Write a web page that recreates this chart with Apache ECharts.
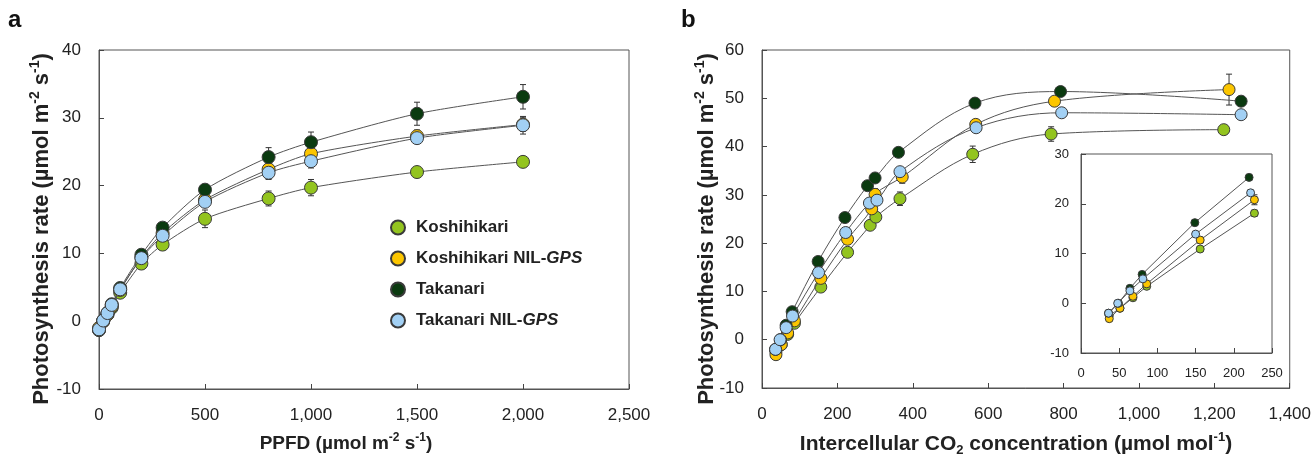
<!DOCTYPE html>
<html>
<head>
<meta charset="utf-8">
<script src="https://cdn.jsdelivr.net/npm/echarts@6/dist/echarts.min.js"></script>
<style>
  html, body { margin: 0; padding: 0; background: #fff; }
  #main { width: 1314px; height: 458px; }
</style>
</head>
<body>
<div id="main"></div>
<script>
  // 系列名称 / 颜色
  const names = ['Koshihikari', 'Koshihikari NIL-GPS', 'Takanari', 'Takanari NIL-GPS']
  const colors = ['#93c41f', '#fcc600', '#0b3a10', '#a2d0f4']

  // panel a: light response
  const ppfd = [0, 20, 40, 60, 100, 200, 300, 500, 800, 1000, 1500, 2000]
  const aKoshi = [-1.3, 0.0, 1.0, 2.0, 4.2, 8.5, 11.3, 15.1, 18.1, 19.7, 22.0, 23.5]
  const aKoshiNil = [-1.0, 0.0, 1.0, 2.2, 4.6, 9.4, 13.0, 17.9, 22.4, 24.7, 27.3, 29.0]
  const aTaka = [-1.3, 0.1, 1.2, 2.5, 4.9, 9.8, 13.8, 19.4, 24.2, 26.4, 30.6, 33.1]
  const aTakaNil = [-1.2, 0.1, 1.2, 2.4, 4.7, 9.3, 12.6, 17.6, 21.9, 23.6, 27.0, 28.9]
  const aKoshiErr = [0.2, 0.2, 0.2, 0.2, 0.3, 0.4, 0.5, 1.3, 1.1, 1.2, 0.6, 0.5]
  const aKoshiNilErr = [0.2, 0.2, 0.2, 0.2, 0.3, 0.4, 0.5, 0.7, 0.8, 0.8, 0.9, 1.0]
  const aTakaErr = [0.2, 0.2, 0.2, 0.3, 0.4, 0.5, 0.6, 0.8, 1.4, 1.5, 1.7, 1.8]
  const aTakaNilErr = [0.2, 0.2, 0.2, 0.2, 0.3, 0.4, 0.5, 0.6, 1.0, 1.0, 0.8, 1.3]

  // panel b: A/Ci
  const ciKoshi = [37, 51, 68, 86, 156, 227, 287, 302, 366, 559, 767, 1225]
  const bKoshi = [-2.5, -1.0, 1.1, 3.4, 10.9, 18.1, 23.7, 25.4, 29.2, 38.4, 42.6, 43.5]
  const ciKoshiNil = [37, 51, 68, 86, 156, 227, 291, 300, 372, 567, 776, 1239]
  const bKoshiNil = [-3.1, -1.0, 1.4, 3.9, 12.7, 20.8, 27.1, 30.1, 33.7, 44.6, 49.4, 51.8]
  const ciTaka = [36, 49, 64, 80, 149, 220, 280, 300, 362, 565, 792, 1271]
  const bTaka = [-2.0, 0.0, 3.0, 5.8, 16.2, 25.3, 31.9, 33.5, 38.8, 49.0, 51.4, 49.4]
  const ciTakaNil = [36, 48, 64, 81, 150, 222, 285, 305, 366, 568, 795, 1271]
  const bTakaNil = [-2.0, 0.0, 2.5, 4.9, 13.9, 22.2, 28.3, 28.9, 34.8, 43.9, 47.0, 46.6]
  const bKoshiErr = [0.3, 0.3, 0.3, 0.3, 0.5, 0.6, 0.8, 0.9, 1.4, 1.7, 1.5, 0.5]
  const bKoshiNilErr = [0.3, 0.3, 0.3, 0.3, 0.6, 1.0, 1.0, 1.2, 1.3, 0.7, 0.6, 3.2]
  const bTakaErr = [0.3, 0.3, 0.3, 0.3, 0.4, 0.6, 0.6, 0.6, 0.6, 0.6, 0.6, 1.0]
  const bTakaNilErr = [0.3, 0.3, 0.3, 0.3, 0.4, 0.5, 0.6, 0.6, 0.7, 0.6, 0.6, 0.9]

  // inset: 前6个点 (Ci < 250)
  const insetCount = 6

  const aYs = [aKoshi, aKoshiNil, aTaka, aTakaNil]
  const aErrs = [aKoshiErr, aKoshiNilErr, aTakaErr, aTakaNilErr]
  const bXs = [ciKoshi, ciKoshiNil, ciTaka, ciTakaNil]
  const bYs = [bKoshi, bKoshiNil, bTaka, bTakaNil]
  const bErrs = [bKoshiErr, bKoshiNilErr, bTakaErr, bTakaNilErr]

  const font = 'Liberation Sans, Arial, sans-serif'
  const txt = '#222'
  const lineCol = '#555'

  function thousands(v) {
    return String(v).replace(/\B(?=(\d{3})+(?!\d))/g, ',')
  }

  function renderErr(params, api) {
    let x = api.value(0)
    let y = api.value(1)
    let e = api.value(2)
    let top = api.coord([x, y + e])
    let bot = api.coord([x, y - e])
    let w = 3
    let st = { stroke: '#333', lineWidth: 1 }
    return {
      type: 'group',
      children: [
        { type: 'line', shape: { x1: top[0], y1: top[1], x2: bot[0], y2: bot[1] }, style: st },
        { type: 'line', shape: { x1: top[0] - w, y1: top[1], x2: top[0] + w, y2: top[1] }, style: st },
        { type: 'line', shape: { x1: bot[0] - w, y1: bot[1], x2: bot[0] + w, y2: bot[1] }, style: st }
      ]
    }
  }

  function valueAxis(gridIndex, min, max, interval, size, margin, fmt) {
    return {
      type: 'value',
      gridIndex: gridIndex,
      min: min,
      max: max,
      interval: interval,
      splitLine: { show: false },
      axisLine: { show: true, onZero: false, lineStyle: { color: lineCol, width: 1 } },
      axisTick: { show: true, inside: true, length: 5, lineStyle: { color: '#444' } },
      axisLabel: { color: txt, fontSize: size, fontFamily: font, margin: margin, formatter: fmt }
    }
  }

  let series = []
  const groups = [
    { grid: 0, size: 13, smooth: 0.25, z: 2 },
    { grid: 1, size: 12, smooth: 0.35, z: 2 },
    { grid: 2, size: 8, smooth: false, z: 10 }
  ]
  groups.forEach(g => {
    names.forEach((name, i) => {
      let pts, errs
      if (g.grid === 0) {
        pts = ppfd.map((x, k) => [x, aYs[i][k]])
        errs = ppfd.map((x, k) => [x, aYs[i][k], aErrs[i][k]])
      } else {
        let n = g.grid === 1 ? bXs[i].length : insetCount
        pts = bXs[i].slice(0, n).map((x, k) => [x, bYs[i][k]])
        errs = bXs[i].slice(0, n).map((x, k) => [x, bYs[i][k], bErrs[i][k]])
      }
      series.push({
        name: 'err' + g.grid + '-' + i,
        type: 'custom',
        xAxisIndex: g.grid,
        yAxisIndex: g.grid,
        renderItem: renderErr,
        data: errs,
        z: g.z,
        silent: true
      })
      series.push({
        name: name,
        type: 'line',
        xAxisIndex: g.grid,
        yAxisIndex: g.grid,
        data: pts,
        smooth: g.smooth,
        symbol: 'circle',
        symbolSize: g.size,
        showAllSymbol: true,
        lineStyle: { color: lineCol, width: 1 },
        itemStyle: { color: colors[i], borderColor: '#3a3a3a', borderWidth: 1 },
        z: g.z + 1 + i,
        animation: false
      })
    })
  })

  function richSet(size) {
    return {
      t: { fontSize: size, fontWeight: 'bold', fontFamily: font, fill: txt, lineHeight: size + 5 },
      s: { fontSize: Math.round(size * 0.62), fontWeight: 'bold', fontFamily: font, fill: txt, lineHeight: 12, verticalAlign: 'top' },
      d: { fontSize: Math.round(size * 0.62), fontWeight: 'bold', fontFamily: font, fill: txt, lineHeight: 12, verticalAlign: 'bottom' }
    }
  }
  const yTitle = '{t|Photosynthesis rate (\u00b5mol m}{s|-2}{t| s}{s|-1}{t|)}'

  function titleText(x, y, text, size, rot) {
    return {
      type: 'text',
      x: x,
      y: y,
      rotation: rot || 0,
      style: { text: text, rich: richSet(size), align: 'center', verticalAlign: 'middle', fill: txt }
    }
  }

  const option = {
    backgroundColor: '#fff',
    animation: false,
    grid: [
      { left: 99, top: 50, width: 530, height: 339, show: true, borderColor: lineCol, borderWidth: 1, backgroundColor: 'transparent' },
      { left: 762, top: 50, width: 530, height: 338, show: true, borderColor: lineCol, borderWidth: 1, backgroundColor: 'transparent' },
      { left: 1081, top: 154, width: 191, height: 199, show: true, borderColor: lineCol, borderWidth: 1, backgroundColor: '#fff', z: 3 }
    ],
    xAxis: [
      valueAxis(0, 0, 2500, 500, 17, 18, thousands),
      valueAxis(1, 0, 1400, 200, 17, 18, thousands),
      Object.assign(valueAxis(2, 0, 250, 50, 13, 14), { z: 9 })
    ],
    yAxis: [
      valueAxis(0, -10, 40, 10, 17, 18),
      valueAxis(1, -10, 60, 10, 17, 18),
      Object.assign(valueAxis(2, -10, 30, 10, 13, 12), { z: 9 })
    ],
    legend: {
      data: names,
      orient: 'vertical',
      left: 385,
      top: 214,
      icon: 'circle',
      itemWidth: 26,
      itemHeight: 14,
      itemGap: 14,
      textStyle: {
        color: txt,
        fontSize: 17,
        fontWeight: 'bold',
        fontFamily: font,
        rich: {
          n: { fontSize: 17, fontWeight: 'bold', fontFamily: font, color: txt },
          i: { fontSize: 17, fontWeight: 'bold', fontStyle: 'italic', fontFamily: font, color: txt }
        }
      },
      formatter: function (name) {
        if (name.endsWith('GPS')) {
          return '{n|' + name.slice(0, -3) + '}{i|GPS}'
        }
        return '{n|' + name + '}'
      },
      selectedMode: false
    },
    graphic: [
      { type: 'text', x: 8, y: 8, style: { text: 'a', fontSize: 24, fontWeight: 'bold', fontFamily: font, fill: '#111' } },
      { type: 'text', x: 681, y: 8, style: { text: 'b', fontSize: 24, fontWeight: 'bold', fontFamily: font, fill: '#111' } },
      titleText(42, 229, yTitle, 22, Math.PI / 2),
      titleText(707, 229, yTitle, 22, Math.PI / 2),
      titleText(346, 444, '{t|PPFD (\u00b5mol m}{s|-2}{t| s}{s|-1}{t|)}', 19),
      titleText(1016, 444, '{t|Intercellular CO}{d|2}{t| concentration (\u00b5mol mol}{s|-1}{t|)}', 21)
    ],
    series: series
  }

  let myChart = echarts.init(document.getElementById('main'))
  myChart.setOption(option)
</script>
</body>
</html>
